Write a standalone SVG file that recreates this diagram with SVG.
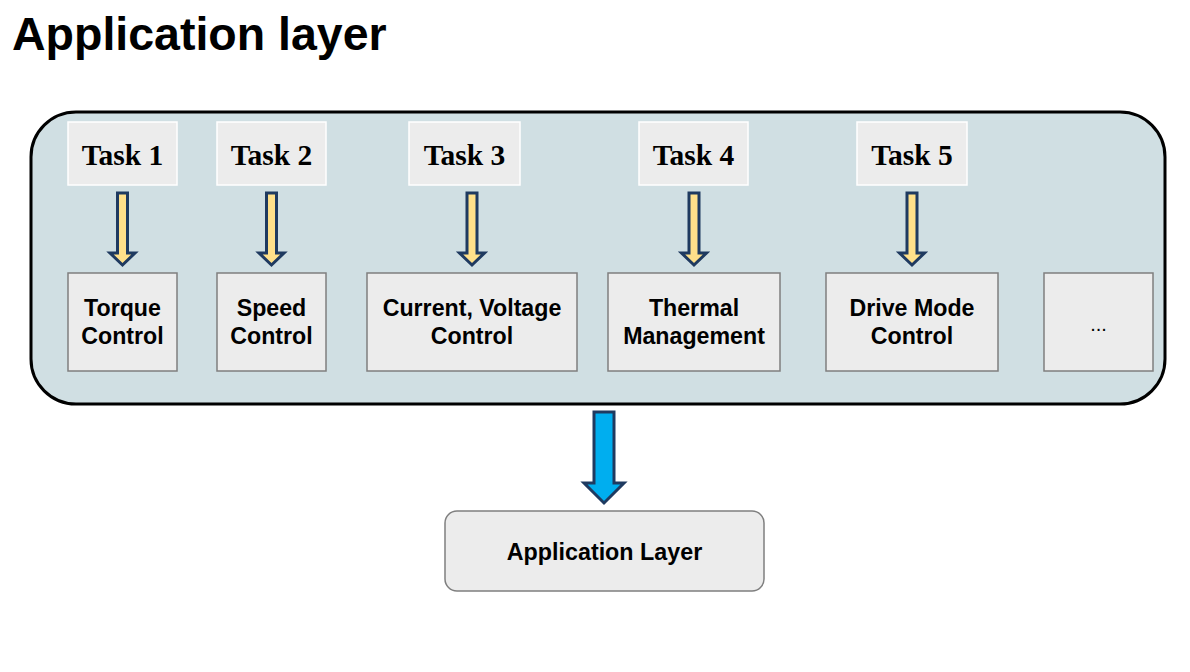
<svg xmlns="http://www.w3.org/2000/svg" width="1190" height="672" viewBox="0 0 1190 672">
<style>
.task rect{fill:#ececec;stroke:#ffffff;stroke-width:1.5}
.task text{font-family:"Liberation Serif",serif;font-weight:bold;font-size:29.5px;fill:#000;text-anchor:middle}
.fn rect{fill:#ececec;stroke:#7f7f7f;stroke-width:1.5}
.fn text{font-family:"Liberation Sans",Arial,sans-serif;font-weight:bold;font-size:23.2px;fill:#000;text-anchor:middle}
.ya{fill:#ffe08a;stroke:#1f3a60;stroke-width:3;stroke-linejoin:miter}
.ba{fill:#00aeef;stroke:#1f3a60;stroke-width:3}
</style>
<rect width="1190" height="672" fill="#ffffff"/>
<text x="12" y="50" font-family="Liberation Sans,Arial,sans-serif" font-weight="bold" font-size="46.5" fill="#000">Application layer</text>
<g id="container">
<rect x="31" y="112" width="1134" height="292" rx="45" fill="#d0dfe3" stroke="#000" stroke-width="3"/>
</g>
<g id="task1" class="task"><rect x="68" y="122" width="109" height="63"/><text x="122.5" y="165">Task 1</text></g>
<g id="task2" class="task"><rect x="217" y="122" width="109" height="63"/><text x="271.5" y="165">Task 2</text></g>
<g id="task3" class="task"><rect x="409" y="122" width="111" height="63"/><text x="464.5" y="165">Task 3</text></g>
<g id="task4" class="task"><rect x="639" y="122" width="109" height="63"/><text x="693.5" y="165">Task 4</text></g>
<g id="task5" class="task"><rect x="857" y="122" width="110" height="63"/><text x="912" y="165">Task 5</text></g>
<g id="torque" class="fn"><rect x="68" y="273" width="109" height="98"/><text x="122.5" y="316">Torque</text><text x="122.5" y="344">Control</text></g>
<g id="speed" class="fn"><rect x="217" y="273" width="109" height="98"/><text x="271.5" y="316">Speed</text><text x="271.5" y="344">Control</text></g>
<g id="current" class="fn"><rect x="367" y="273" width="210" height="98"/><text x="472" y="316">Current, Voltage</text><text x="472" y="344">Control</text></g>
<g id="thermal" class="fn"><rect x="608" y="273" width="172" height="98"/><text x="694" y="316">Thermal</text><text x="694" y="344">Management</text></g>
<g id="drive" class="fn"><rect x="826" y="273" width="172" height="98"/><text x="912" y="316">Drive Mode</text><text x="912" y="344">Control</text></g>
<g id="more" class="fn"><rect x="1044" y="273" width="109" height="98"/><text x="1098.5" y="331" style="font-weight:normal;font-size:20px">...</text></g>
<g id="applayer"><rect x="445" y="511" width="319" height="80" rx="12" fill="#ececec" stroke="#7f7f7f" stroke-width="1.5"/><text x="604.5" y="560" font-family="Liberation Sans,Arial,sans-serif" font-weight="bold" font-size="23.3" text-anchor="middle">Application Layer</text></g>
<g id="connectors">
<path class="ya" d="M117.5,193 H127.5 V253 H135 L122.5,265 L110,253 H117.5 Z"/>
<path class="ya" d="M266.5,193 H276.5 V253 H284 L271.5,265 L259,253 H266.5 Z"/>
<path class="ya" d="M467,193 H477 V253 H484.5 L472,265 L459.5,253 H467 Z"/>
<path class="ya" d="M689,193 H699 V253 H706.5 L694,265 L681.5,253 H689 Z"/>
<path class="ya" d="M907,193 H917 V253 H924.5 L912,265 L899.5,253 H907 Z"/>
<path class="ba" d="M594,412 H614 V483 H624 L604,503 L584,483 H594 Z"/>
</g>
</svg>
